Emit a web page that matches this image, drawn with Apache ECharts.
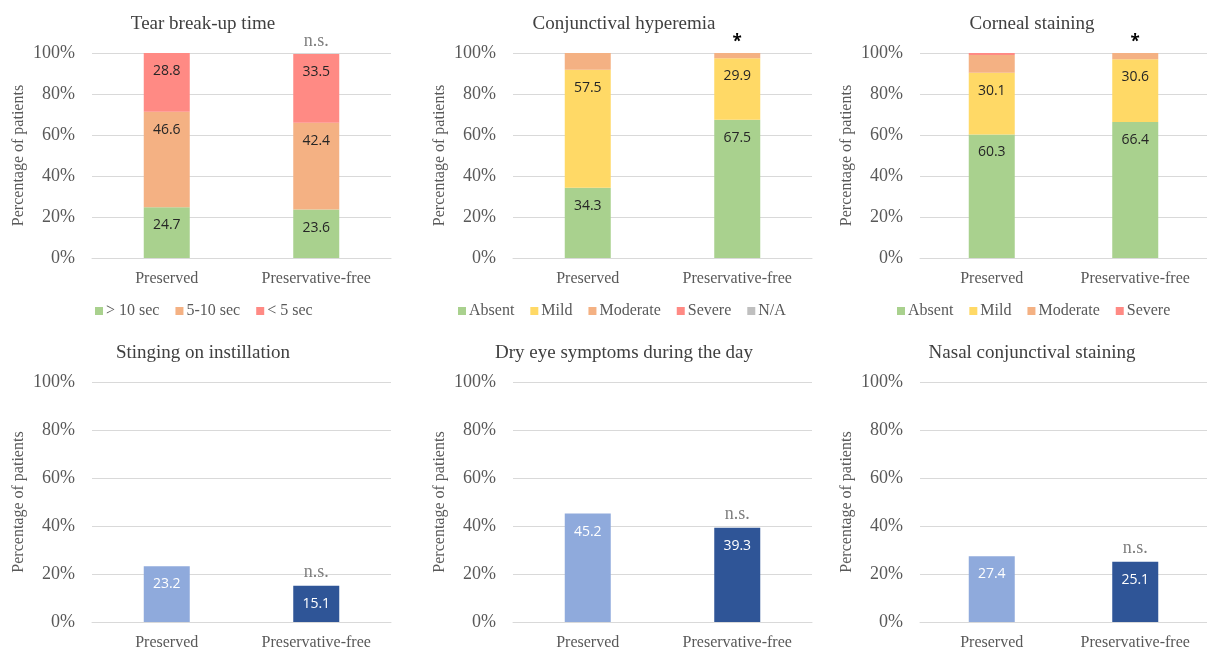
<!DOCTYPE html>
<html>
<head>
<meta charset="utf-8">
<script src="https://cdn.jsdelivr.net/npm/echarts@6/dist/echarts.min.js"></script>
<style>html,body{margin:0;padding:0;background:#fff;}#c{width:1207px;height:651px;}</style>
</head>
<body>
<div id="c"></div>
<script>
const categories = ['Preserved', 'Preservative-free'];

const titles = ['Tear break-up time', 'Conjunctival hyperemia', 'Corneal staining',
  'Stinging on instillation', 'Dry eye symptoms during the day', 'Nasal conjunctival staining'];

const tbutNames = ['> 10 sec', '5-10 sec', '< 5 sec'];
const tbutValues = [[24.7, 23.6], [46.6, 42.4], [28.8, 33.5]];

const hyperNames = ['Absent', 'Mild', 'Moderate', 'Severe', 'N/A'];
const hyperValues = [[34.3, 67.5], [57.5, 29.9], [8.2, 2.6], [0, 0], [0, 0]];

const cornealNames = ['Absent', 'Mild', 'Moderate', 'Severe'];
const cornealValues = [[60.3, 66.4], [30.1, 30.6], [8.6, 3.0], [1.0, 0]];

const stingingValues = [23.2, 15.1];
const dryEyeValues = [45.2, 39.3];
const nasalValues = [27.4, 25.1];

const significance = [['', 'n.s.'], ['', '*'], ['', '*'], ['', 'n.s.'], ['', 'n.s.'], ['', 'n.s.']];

const yTicks = [0, 20, 40, 60, 80, 100];

// styling
const colorMap = {
  '> 10 sec': '#a9d18e', '5-10 sec': '#f4b183', '< 5 sec': '#ff8a84',
  'Absent': '#a9d18e', 'Mild': '#ffd966', 'Moderate': '#f4b183', 'Severe': '#ff8a84', 'N/A': '#bfbfbf'
};
const blueLight = '#8faadc', blueDark = '#2f5597';
const serif = '"Liberation Serif", "DejaVu Serif", serif';
const sans = '"Open Sans", "Noto Sans", sans-serif';

const gridLefts = [92, 513, 920];
const gridW = 299;
const topRow = { top: 53, height: 205 };
const botRow = { top: 382, height: 241 };
const titleCenters = [198, 619, 1027];
const legendLefts = [90, 453, 892];

const grids = [], xAxes = [], yAxes = [], series = [], titleArr = [], legends = [];

for (let i = 0; i < 6; i++) {
  const col = i % 3, row = Math.floor(i / 3);
  const r = row === 0 ? topRow : botRow;
  grids.push({ left: gridLefts[col], top: r.top, width: gridW, height: r.height, containLabel: false });
  xAxes.push({
    type: 'category', gridIndex: i, data: categories,
    axisTick: { show: false },
    axisLine: { lineStyle: { color: '#d9d9d9', width: 1 } },
    axisLabel: { fontFamily: serif, fontSize: 16, color: '#595959', margin: 13 }
  });
  yAxes.push({
    type: 'value', gridIndex: i, min: yTicks[0], max: yTicks[yTicks.length - 1], interval: yTicks[1] - yTicks[0],
    axisLine: { show: false }, axisTick: { show: false },
    splitLine: { lineStyle: { color: '#d9d9d9', width: 1 } },
    axisLabel: { fontFamily: serif, fontSize: 18, color: '#595959', margin: 17, formatter: '{value}%' },
    name: 'Percentage of patients', nameLocation: 'middle', nameRotate: 90, nameGap: 65,
    nameTextStyle: { fontFamily: serif, fontSize: 16, color: '#595959' }
  });
  titleArr.push({
    text: titles[i], left: titleCenters[col], top: row === 0 ? 10 : 339, textAlign: 'center',
    textStyle: { fontFamily: serif, fontSize: 19, fontWeight: 'normal', color: '#404040' }
  });
}

function segLabel() {
  return {
    show: true, position: 'insideTop', distance: 11,
    fontFamily: sans, fontSize: 14, color: '#262626',
    formatter: p => (p.value >= 10 ? p.value.toFixed(1) : '')
  };
}

function addStacked(idx, names, values) {
  names.forEach((n, k) => {
    series.push({
      type: 'bar', name: n, xAxisIndex: idx, yAxisIndex: idx, stack: 's' + idx,
      barWidth: 46, data: values[k], itemStyle: { color: colorMap[n] },
      label: segLabel()
    });
  });
}

function addSig(idx, isStar) {
  series.push({
    type: 'bar', name: 'sig' + idx, xAxisIndex: idx, yAxisIndex: idx, stack: 's' + idx,
    barWidth: 46, data: [0, 0], itemStyle: { color: 'rgba(0,0,0,0)' }, silent: true,
    label: {
      show: true, position: 'top', distance: isStar ? 2 : 4,
      fontFamily: isStar ? sans : serif, fontSize: isStar ? 17 : 18,
      fontWeight: isStar ? 'bold' : 'normal', color: isStar ? '#000' : '#7f7f7f',
      formatter: p => significance[idx][p.dataIndex]
    }
  });
}

function addSimple(idx, values) {
  series.push({
    type: 'bar', name: 'v' + idx, xAxisIndex: idx, yAxisIndex: idx, stack: 's' + idx,
    barWidth: 46,
    data: values.map((v, k) => ({ value: v, itemStyle: { color: k === 0 ? blueLight : blueDark } })),
    label: { show: true, position: 'insideTop', distance: 11, fontFamily: sans, fontSize: 14, color: '#ffffff',
      formatter: p => p.value.toFixed(1) }
  });
}

addStacked(0, tbutNames, tbutValues); addSig(0, false);
addStacked(1, hyperNames, hyperValues); addSig(1, true);
addStacked(2, cornealNames, cornealValues); addSig(2, true);
addSimple(3, stingingValues); addSig(3, false);
addSimple(4, dryEyeValues); addSig(4, false);
addSimple(5, nasalValues); addSig(5, false);

[tbutNames, hyperNames, cornealNames].forEach((names, k) => {
  legends.push({
    data: names, left: legendLefts[k], top: 298, itemWidth: 8, itemHeight: 8, itemGap: 16,
    icon: 'rect', selectedMode: false,
    textStyle: { fontFamily: serif, fontSize: 16, color: '#595959', padding: [0, 0, 0, -2] }
  });
});

const chart = echarts.init(document.getElementById('c'), null, { renderer: 'canvas' });
chart.setOption({
  backgroundColor: '#ffffff',
  animation: false,
  title: titleArr,
  legend: legends,
  grid: grids,
  xAxis: xAxes,
  yAxis: yAxes,
  series: series
});
</script>
</body>
</html>
